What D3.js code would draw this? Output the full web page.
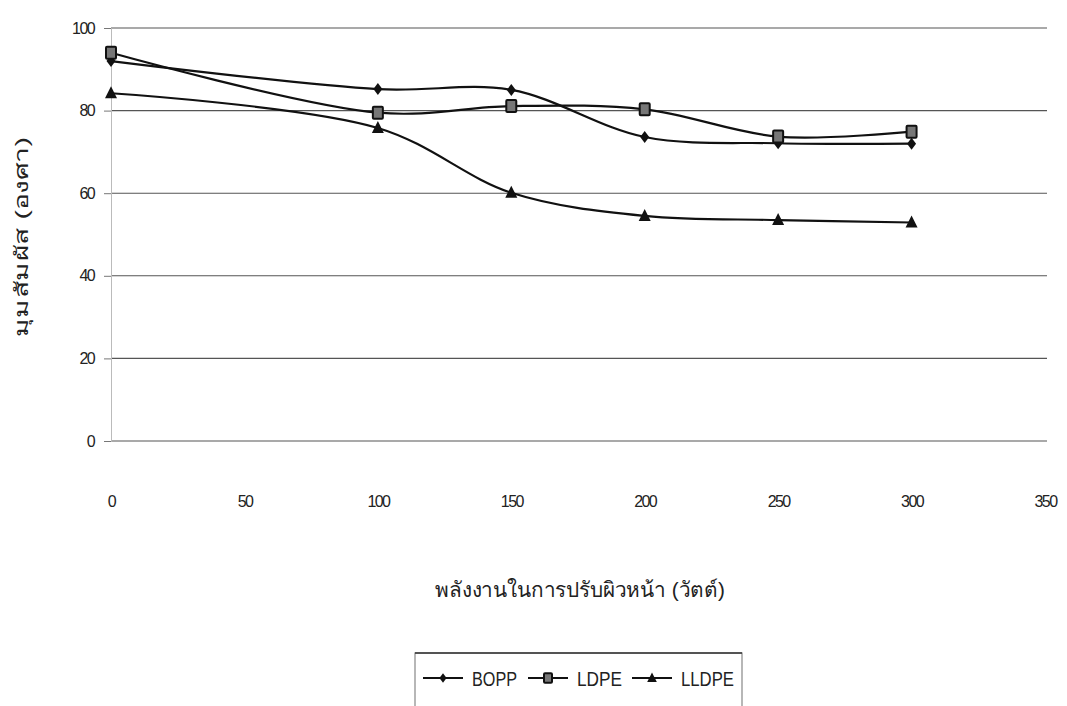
<!DOCTYPE html>
<html><head><meta charset="utf-8">
<script src="https://cdn.jsdelivr.net/npm/d3@7"></script>
<style>body{margin:0;background:#fff;} svg{display:block;} text{font-family:"Liberation Sans",Arial,sans-serif;fill:#222;}</style>
</head><body><svg id="c" width="1067" height="706"></svg>
<script>
const power = [0, 100, 150, 200, 250, 300];
const bopp  = [92, 85.2, 85, 73.6, 72.1, 72];
const ldpe  = [94, 79.5, 81.1, 80.3, 73.7, 74.9];
const lldpe = [84.2, 75.8, 60.1, 54.5, 53.5, 52.9];
const seriesNames = ["BOPP", "LDPE", "LLDPE"];
const xTicks = [0, 50, 100, 150, 200, 250, 300, 350];
const yTicks = [0, 20, 40, 60, 80, 100];
const xTitle = "พลังงานในการปรับผิวหน้า (วัตต์)";
const yTitle = "มุมสัมผัส (องศา)";

const svg = d3.select("#c");
const x = d3.scaleLinear().domain([0, 350]).range([111, 1045]);
const y = d3.scaleLinear().domain([0, 100]).range([441, 28]);

// gridlines
svg.append("g").selectAll("line").data(yTicks).join("line")
  .attr("x1", 111).attr("x2", 1047).attr("y1", d => y(d)).attr("y2", d => y(d))
  .attr("stroke", "#555").attr("stroke-width", 1.1);

const tickFont = g => g.selectAll("text").style("font-size", "16px").style("letter-spacing", "-1.6px").attr("fill", "#333");

// y axis
const ya = svg.append("g").attr("transform", "translate(111,0)")
  .call(d3.axisLeft(y).tickValues(yTicks).tickSize(7).tickPadding(10));
ya.select(".domain").attr("stroke", "#bbb");
ya.selectAll(".tick line").attr("stroke", "#777");
ya.call(tickFont);

// x axis labels (offset below plot)
const xa = svg.append("g").attr("transform", "translate(0,441)")
  .call(d3.axisBottom(x).tickValues(xTicks).tickSize(0).tickPadding(55));
xa.select(".domain").remove();
xa.call(tickFont);

const data = [bopp, ldpe, lldpe];
const line = d3.line().x((d, i) => x(power[i])).y(d => y(d)).curve(d3.curveCatmullRom.alpha(0.5));

data.forEach((s, k) => {
  svg.append("path").attr("d", line(s)).attr("fill", "none").attr("stroke", "#111").attr("stroke-width", 2.2);
});

function marker(g, k, cx, cy, sc) {
  sc = sc || 1;
  if (k === 0) {
    g.append("path").attr("d", `M${cx},${cy-6*sc}L${cx+4.5*sc},${cy}L${cx},${cy+6*sc}L${cx-4.5*sc},${cy}Z`).attr("fill", "#111");
  } else if (k === 1) {
    g.append("rect").attr("x", cx-5*sc).attr("y", cy-6*sc).attr("width", 10*sc).attr("height", 12*sc).attr("rx", 1)
      .attr("fill", "#777").attr("stroke", "#111").attr("stroke-width", 2);
  } else {
    g.append("path").attr("d", `M${cx},${cy-7*sc}L${cx+6*sc},${cy+5*sc}L${cx-6*sc},${cy+5*sc}Z`).attr("fill", "#111");
  }
}
const mg = svg.append("g");
data.forEach((s, k) => s.forEach((v, i) => marker(mg, k, x(power[i]), y(v))));

// titles
svg.append("text").attr("x", 580).attr("y", 597).attr("text-anchor", "middle")
  .attr("textLength", 290).attr("lengthAdjust", "spacingAndGlyphs")
  .style("font-size", "21px").attr("fill", "#333").text(xTitle);
svg.append("text").attr("transform", "translate(28,237) rotate(-90)").attr("text-anchor", "middle")
  .attr("textLength", 200).attr("lengthAdjust", "spacingAndGlyphs")
  .style("font-size", "19px").attr("fill", "#444").text(yTitle);

// legend
const lg = svg.append("g");
lg.append("rect").attr("x", 415).attr("y", 653).attr("width", 327).attr("height", 60)
  .attr("fill", "none").attr("stroke", "#888").attr("stroke-width", 1.2);
lg.append("line").attr("x1", 415).attr("x2", 742).attr("y1", 653).attr("y2", 653).attr("stroke", "#333").attr("stroke-width", 1.5);
const lx = [423, 528, 632];
const lw = [45, 45, 53];
seriesNames.forEach((n, k) => {
  const cy = 678;
  lg.append("line").attr("x1", lx[k]).attr("x2", lx[k] + 40).attr("y1", cy).attr("y2", cy).attr("stroke", "#111").attr("stroke-width", 2);
  marker(lg, k, lx[k] + 20, cy, 0.8);
  lg.append("text").attr("x", lx[k] + 49).attr("y", cy + 8).style("font-size", "20px")
    .attr("textLength", lw[k]).attr("lengthAdjust", "spacingAndGlyphs").attr("fill", "#333").text(n);
});
</script></body></html>
